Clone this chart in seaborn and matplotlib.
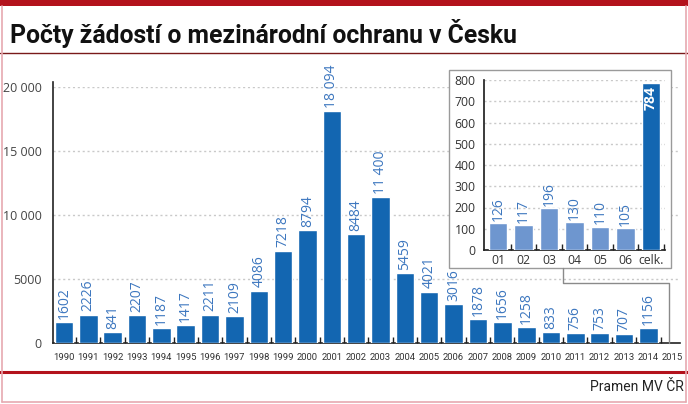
import matplotlib
matplotlib.use("Agg")
import matplotlib.pyplot as plt
import seaborn as sns
import pandas as pd
import numpy as np
from matplotlib.patches import Rectangle
from matplotlib.lines import Line2D
from matplotlib.ticker import FixedLocator

# ---- data ----
years = [str(y) for y in range(1990, 2016)]
applications = [1602, 2226, 841, 2207, 1187, 1417, 2211, 2109, 4086, 7218,
                8794, 18094, 8484, 11400, 5459, 4021, 3016, 1878, 1656, 1258,
                833, 756, 753, 707, 1156]          # 2015 has no bar (see inset)
months_2015 = ["01", "02", "03", "04", "05", "06", "celk."]
applications_2015 = [126, 117, 196, 130, 110, 105, 784]

title = "Počty žádostí o mezinárodní ochranu v Česku"
source = "Pramen MV ČR"

main_ticks = [0, 5000, 10000, 15000, 20000]
main_tick_labels = ["0", "5000", "10 000", "15 000", "20 000"]
inset_ticks = list(range(0, 900, 100))

# ---- style ----
sns.set_theme(style="white")
plt.rcParams["font.family"] = ["Open Sans", "DejaVu Sans"]
NARROW = ["Roboto", "DejaVu Sans"]
DARK_BLUE = "#1366b1"
LIGHT_BLUE = "#6e96cf"
LABEL_BLUE = "#3d77bf"
RED = "#b3121c"

W, H = 688, 404
fig = plt.figure(figsize=(W / 100, H / 100), dpi=100)
fig.patch.set_facecolor("white")

def fx(px):
    return px / W

def fy(py):
    return 1 - py / H

def fmt(v):
    return f"{v:,}".replace(",", " ") if v >= 10000 else str(v)

# ---- main axes ----
ax = fig.add_axes([fx(53), fy(343), fx(680) - fx(53), fy(87) - fy(343)])
df = pd.DataFrame({"year": years[:len(applications)], "value": applications})
sns.barplot(data=df, x="year", y="value", order=years, color=DARK_BLUE,
            width=0.76, saturation=1, ax=ax, zorder=3)
ax.set_xlim(-0.45, 25.3)
ax.set_ylim(0, 20000)
ax.set_xlabel("")
ax.set_ylabel("")
ax.set_yticks(main_ticks)
ax.set_yticklabels(main_tick_labels)
ax.set_xticks(range(len(years)))
ax.set_xticklabels(years, fontfamily=NARROW, fontsize=6.8, color="#333333")
ax.tick_params(axis="x", length=0, pad=7)
ax.tick_params(axis="y", length=0, pad=8, labelsize=9, labelcolor="#444444")
ax.xaxis.set_minor_locator(FixedLocator(np.arange(0.5, 25, 1.0)))
ax.tick_params(axis="x", which="minor", direction="in", length=4, width=1,
               color="#222222", bottom=True)
for y in main_ticks[1:]:
    ax.axhline(y, color="#c9c9c9", lw=1, ls=(0, (1.5, 2)), zorder=1)
for s in ["top", "right"]:
    ax.spines[s].set_visible(False)
ax.spines["left"].set_color("#222222")
ax.spines["bottom"].set_color("#222222")
ax.spines["left"].set_linewidth(1.2)
ax.spines["bottom"].set_linewidth(1.2)
ax.spines["left"].set_bounds(0, 20400)
ax.set_facecolor("none")

for i, v in enumerate(applications):
    ax.text(i, v + 250, fmt(v), rotation=90, ha="center", va="bottom",
            color=LABEL_BLUE, fontsize=10, clip_on=False, zorder=4)

# ---- inset box ----
fig.add_artist(Rectangle((fx(449), fy(268)), fx(671) - fx(449), fy(70) - fy(268),
                         transform=fig.transFigure, facecolor="white",
                         edgecolor="#9a9a9a", lw=1.0, zorder=1))
conn_x = [fx(563), fx(563), fx(669), fx(669)]
conn_y = [fy(268), fy(283), fy(283), fy(343)]
fig.add_artist(Line2D(conn_x, conn_y, transform=fig.transFigure,
                      color="#8a8a8a", lw=1.0, zorder=1))

# ---- inset axes ----
ax2 = fig.add_axes([fx(484), fy(250), fx(665) - fx(484), fy(80) - fy(250)])
ax2.set_zorder(2)
df2 = pd.DataFrame({"month": months_2015, "value": applications_2015})
pal = [LIGHT_BLUE] * (len(months_2015) - 1) + [DARK_BLUE]
sns.barplot(data=df2, x="month", y="value", hue="month", palette=pal,
            legend=False, width=0.74, saturation=1, ax=ax2, zorder=3)
ax2.set_xlim(-0.55, 6.55)
ax2.set_ylim(0, 800)
ax2.set_xlabel("")
ax2.set_ylabel("")
ax2.set_yticks(inset_ticks)
ax2.set_yticklabels([str(t) for t in inset_ticks])
ax2.tick_params(axis="y", length=0, pad=6, labelsize=8.8, labelcolor="#333333")
ax2.tick_params(axis="x", length=0, pad=3, labelsize=8.8, labelcolor="#333333")
ax2.xaxis.set_minor_locator(FixedLocator(np.arange(0.5, 6.6, 1.0)))
ax2.tick_params(axis="x", which="minor", direction="in", length=4, width=1,
                color="#222222", bottom=True)
for y in inset_ticks[1:]:
    ax2.axhline(y, color="#c9c9c9", lw=1, ls=(0, (1.5, 2)), zorder=1)
for s in ["top", "right"]:
    ax2.spines[s].set_visible(False)
ax2.spines["left"].set_color("#222222")
ax2.spines["bottom"].set_color("#222222")
ax2.set_facecolor("white")
for i, v in enumerate(applications_2015):
    if i == len(applications_2015) - 1:
        ax2.text(i, v - 12, fmt(v), rotation=90, ha="center", va="top",
                 color="white", fontsize=10, fontweight="bold", zorder=4)
    else:
        ax2.text(i, v + 10, fmt(v), rotation=90, ha="center", va="bottom",
                 color=LABEL_BLUE, fontsize=10, zorder=4)

# ---- frame & texts ----
fig.add_artist(Rectangle((0, fy(6)), 1, fy(0) - fy(6), transform=fig.transFigure,
                         facecolor=RED, edgecolor="none", zorder=5))
fig.add_artist(Line2D([0, 1], [fy(53), fy(53)], transform=fig.transFigure,
                      color="#7a1a1a", lw=1.0, zorder=5))
fig.add_artist(Line2D([0, 1], [fy(372), fy(372)], transform=fig.transFigure,
                      color=RED, lw=2.2, zorder=5))
for x in (fx(1.5), fx(686)):
    fig.add_artist(Line2D([x, x], [fy(402), fy(6)], transform=fig.transFigure,
                          color="#e6a9b0", lw=1.2, zorder=5))
fig.add_artist(Line2D([fx(1.5), fx(686)], [fy(402), fy(402)],
                      transform=fig.transFigure, color="#e6a9b0", lw=1.2, zorder=5))

fig.text(fx(10), fy(34), title, ha="left", va="center", fontsize=17.8,
         fontweight="bold", fontfamily=NARROW, color="#111111")
fig.text(fx(684), fy(387), source, ha="right", va="center", fontsize=10,
         fontfamily=NARROW, color="#222222")

fig.savefig("out.png", dpi=100, facecolor="white")
